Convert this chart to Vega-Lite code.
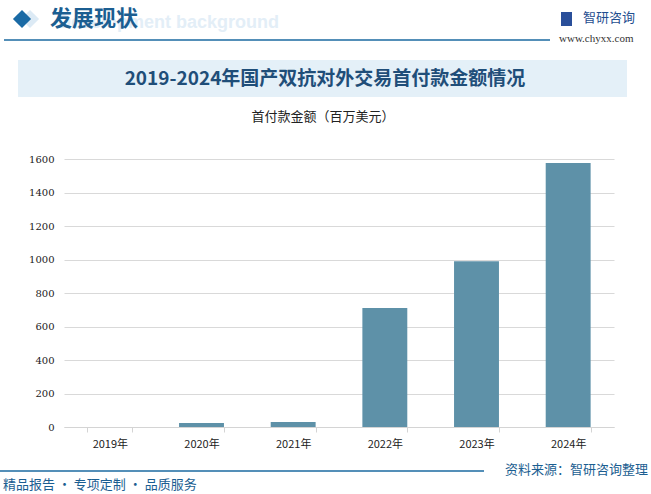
{
  "$schema": "https://vega.github.io/schema/vega-lite/v6.json",
  "width": 550,
  "height": 268,
  "autosize": {"type": "none"},
  "padding": {"left": 64, "top": 159, "right": 37, "bottom": 67},
  "background": "#ffffff",
  "config": {"view": {"stroke": null}},
  "layer": [
    {
      "data": {"values": [{}]},
      "mark": {"type": "rect", "fill": "#e4f0f8"},
      "encoding": {"x": {"value": -46}, "x2": {"value": 563}, "y": {"value": -99}, "y2": {"value": -62}}
    },
    {
      "data": {"values": [{"t": "2019-2024年国产双抗对外交易首付款金额情况"}]},
      "mark": {"type": "text", "font": "Noto Sans CJK SC", "fontWeight": "bold", "fontSize": 19, "color": "#1f4e79", "align": "center", "baseline": "middle"},
      "encoding": {"text": {"field": "t"}, "x": {"value": 261}, "y": {"value": -80}}
    },
    {
      "data": {"values": [{"t": "首付款金额（百万美元）"}]},
      "mark": {"type": "text", "font": "Noto Sans CJK SC", "fontSize": 13, "color": "#222222", "align": "center", "baseline": "middle"},
      "encoding": {"text": {"field": "t"}, "x": {"value": 259}, "y": {"value": -42}}
    },
    {
      "data": {"values": [{"t": "Development background"}]},
      "mark": {"type": "text", "font": "Liberation Sans", "fontWeight": "bold", "fontSize": 18, "color": "#e3eef7", "align": "left", "baseline": "middle"},
      "encoding": {"text": {"field": "t"}, "x": {"value": -6}, "y": {"value": -136}}
    },
    {
      "data": {"values": [{}]},
      "mark": {"type": "point", "shape": "diamond", "filled": true, "color": "#dceaf5", "opacity": 1},
      "encoding": {"x": {"value": -34}, "y": {"value": -140}, "size": {"value": 330}}
    },
    {
      "data": {"values": [{}]},
      "mark": {"type": "point", "shape": "diamond", "filled": true, "color": "#1a6aa5", "opacity": 1},
      "encoding": {"x": {"value": -42}, "y": {"value": -140}, "size": {"value": 330}}
    },
    {
      "data": {"values": [{"t": "发展现状"}]},
      "mark": {"type": "text", "font": "Noto Sans CJK SC", "fontWeight": "bold", "fontSize": 22, "color": "#1b5e91", "align": "left", "baseline": "middle"},
      "encoding": {"text": {"field": "t"}, "x": {"value": -14}, "y": {"value": -140}}
    },
    {
      "data": {"values": [{}]},
      "mark": {"type": "rule", "color": "#1b6aa0", "strokeWidth": 1.5},
      "encoding": {"x": {"value": -60}, "x2": {"value": 486}, "y": {"value": -119}}
    },
    {
      "data": {"values": [{}]},
      "mark": {"type": "rect", "fill": "#2a4f9a"},
      "encoding": {"x": {"value": 497}, "x2": {"value": 508}, "y": {"value": -147}, "y2": {"value": -133}}
    },
    {
      "data": {"values": [{"t": "智研咨询"}]},
      "mark": {"type": "text", "font": "Noto Sans CJK SC", "fontSize": 13, "color": "#1f4e8f", "align": "left", "baseline": "middle"},
      "encoding": {"text": {"field": "t"}, "x": {"value": 519}, "y": {"value": -141}}
    },
    {
      "data": {"values": [{"t": "www.chyxx.com"}]},
      "mark": {"type": "text", "font": "Liberation Serif", "fontSize": 11, "color": "#333333", "align": "left", "baseline": "middle"},
      "encoding": {"text": {"field": "t"}, "x": {"value": 495}, "y": {"value": -120}}
    },
    {
      "data": {"values": [{}]},
      "mark": {"type": "rule", "color": "#1b6aa0", "strokeWidth": 1.5},
      "encoding": {"x": {"value": -64}, "x2": {"value": 420}, "y": {"value": 312}}
    },
    {
      "data": {"values": [{"t": "精品报告 · 专项定制 · 品质服务"}]},
      "mark": {"type": "text", "font": "Noto Sans CJK SC", "fontSize": 13, "color": "#1b5e91", "align": "left", "baseline": "middle"},
      "encoding": {"text": {"field": "t"}, "x": {"value": -61}, "y": {"value": 326}}
    },
    {
      "data": {"values": [{"t": "资料来源：智研咨询整理"}]},
      "mark": {"type": "text", "font": "Noto Sans CJK SC", "fontSize": 13, "color": "#1b5e91", "align": "right", "baseline": "middle"},
      "encoding": {"text": {"field": "t"}, "x": {"value": 584}, "y": {"value": 311}}
    },
    {
      "data": {"values": [
        {"year": "2019年", "value": 0},
        {"year": "2020年", "value": 24},
        {"year": "2021年", "value": 30},
        {"year": "2022年", "value": 710},
        {"year": "2023年", "value": 989},
        {"year": "2024年", "value": 1576}
      ]},
      "mark": {"type": "bar", "color": "#5e91a8"},
      "encoding": {
        "x": {
          "field": "year", "type": "nominal", "sort": null,
          "scale": {"paddingInner": 0.51, "paddingOuter": 0.255},
          "axis": {
            "title": null, "labelAngle": 0, "labelFont": "Noto Sans CJK SC", "labelFontSize": 11, "labelColor": "#222222",
            "labelPadding": 6, "domainColor": "#d4d4d4", "tickColor": "#d4d4d4", "tickSize": 5, "tickBand": "extent", "grid": false
          }
        },
        "y": {
          "field": "value", "type": "quantitative",
          "scale": {"domain": [0, 1600]},
          "axis": {
            "title": null, "values": [0, 200, 400, 600, 800, 1000, 1200, 1400, 1600], "format": "d",
            "domain": false, "ticks": false, "labelPadding": 10, "labelFont": "DejaVu Serif", "labelFontSize": 10, "labelColor": "#222222",
            "gridColor": "#d9d9d9", "gridWidth": 1
          }
        }
      }
    }
  ]
}
